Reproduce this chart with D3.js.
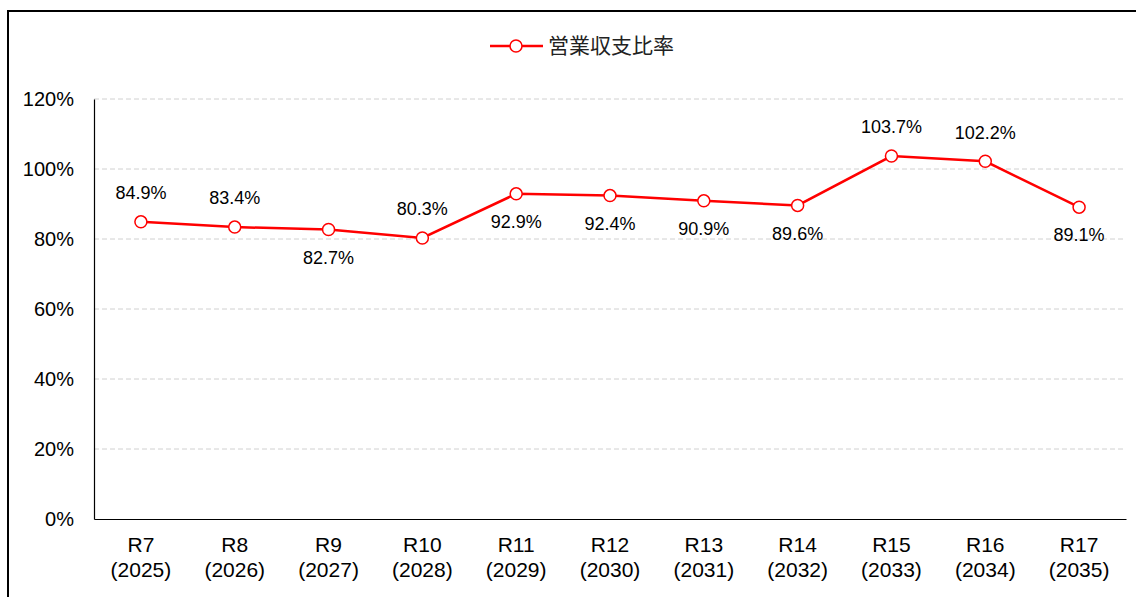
<!DOCTYPE html>
<html><head><meta charset="utf-8">
<script src="https://cdn.jsdelivr.net/npm/d3@7"></script>
<style>body{margin:0;background:#fff}svg{display:block}</style>
</head><body>
<svg id="c" width="1136" height="597"></svg>
<script>
const categories = ["R7","R8","R9","R10","R11","R12","R13","R14","R15","R16","R17"];
const years = ["(2025)","(2026)","(2027)","(2028)","(2029)","(2030)","(2031)","(2032)","(2033)","(2034)","(2035)"];
const values = [84.9, 83.4, 82.7, 80.3, 92.9, 92.4, 90.9, 89.6, 103.7, 102.2, 89.1];
const labelPos = ["above","above","below","above","below","below","below","below","above","above","below"];
const yTicks = [0,20,40,60,80,100,120];
const seriesName = "営業収支比率";

const svg = d3.select("#c");
const font = "'Liberation Sans', Arial, sans-serif";
const m = {l:94, r:1126, t:99, b:519};

svg.append("rect").attr("x",8).attr("y",11).attr("width",1140).attr("height",600)
  .attr("fill","none").attr("stroke","#000").attr("stroke-width",2);

const x = d3.scaleBand().domain(categories).range([m.l, m.r]);
const y = d3.scaleLinear().domain([0,120]).range([m.b, m.t]);

// gridlines
svg.append("g").selectAll("line").data(yTicks.filter(d=>d>0)).join("line")
  .attr("x1",m.l).attr("x2",m.r).attr("y1",d=>y(d)).attr("y2",d=>y(d))
  .attr("stroke","#d0d0d0").attr("stroke-width",1).attr("stroke-dasharray","5,3");

// y axis
const ya = svg.append("g").attr("transform",`translate(${m.l},0)`)
  .call(d3.axisLeft(y).tickValues(yTicks).tickFormat(d=>d+"%").tickSize(0).tickPadding(20));
ya.select(".domain").attr("stroke","#000").attr("stroke-width",1.2);
ya.selectAll("text").attr("font-family",font).attr("font-size",20).attr("fill","#000");

// x axis
const xa = svg.append("g").attr("transform",`translate(0,${m.b})`)
  .call(d3.axisBottom(x).tickSize(0).tickFormat(""));
xa.select(".domain").attr("stroke","#000").attr("stroke-width",1.2);
xa.selectAll(".tick").each(function(d,i){
  const t = d3.select(this).append("text").attr("font-family",font).attr("font-size",21)
    .attr("fill","#000").attr("text-anchor","middle");
  t.append("tspan").attr("x",0).attr("y",33).text(d);
  t.append("tspan").attr("x",0).attr("y",58).text(years[i]);
});

const cx = (d,i)=>x(categories[i])+x.bandwidth()/2;
const line = d3.line().x((d,i)=>cx(d,i)).y(d=>y(d));
svg.append("path").datum(values).attr("d",line).attr("fill","none")
  .attr("stroke","#ff0000").attr("stroke-width",2.5);
svg.append("g").selectAll("circle").data(values).join("circle")
  .attr("cx",cx).attr("cy",d=>y(d)).attr("r",6)
  .attr("fill","#fff").attr("stroke","#ff0000").attr("stroke-width",1.5);

svg.append("g").selectAll("text").data(values).join("text")
  .attr("x",cx).attr("y",(d,i)=>y(d)+(labelPos[i]==="above"?-29:28))
  .attr("dy","0.35em").attr("text-anchor","middle")
  .attr("font-family",font).attr("font-size",18).attr("fill","#000")
  .text(d=>d.toFixed(1)+"%");

// legend
const lg = svg.append("g");
lg.append("line").attr("x1",490).attr("x2",543).attr("y1",46).attr("y2",46)
  .attr("stroke","#ff0000").attr("stroke-width",2.5);
lg.append("circle").attr("cx",516).attr("cy",46).attr("r",6)
  .attr("fill","#fff").attr("stroke","#ff0000").attr("stroke-width",1.5);
lg.append("text").attr("x",548).attr("y",46).attr("dy","0.35em")
  .attr("font-family","'Noto Sans CJK JP', sans-serif").attr("font-size",21).attr("fill","#222")
  .text(seriesName);
</script>
</body></html>
